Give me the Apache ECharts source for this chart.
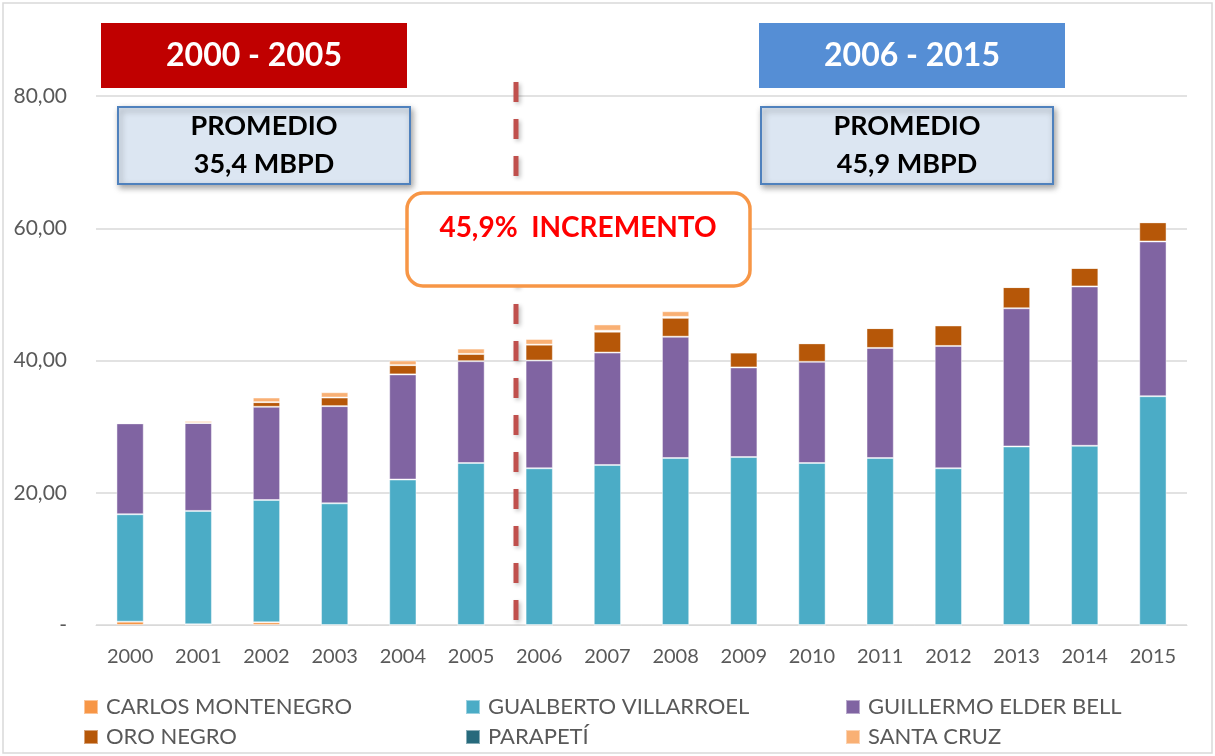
<!DOCTYPE html>
<html>
<head>
<meta charset="utf-8">
<title>Producción por campo</title>
<script src="https://cdn.jsdelivr.net/npm/echarts@6/dist/echarts.min.js"></script>
<style>
    html, body { margin: 0; padding: 0; background: #fff; }
    #ech { width: 1215px; height: 756px; }
</style>
</head>
<body>
<div id="ech"></div>
<script>
// datos (MBPD)
const years = ["2000", "2001", "2002", "2003", "2004", "2005", "2006", "2007", "2008", "2009", "2010", "2011", "2012", "2013", "2014", "2015"];
const carlosMontenegro = [0.5, 0.1, 0.4, 0, 0, 0, 0, 0, 0, 0, 0, 0, 0, 0, 0, 0];
const gualbertoVillarroel = [16.25, 17.15, 18.5, 18.4, 22.0, 24.5, 23.7, 24.2, 25.25, 25.4, 24.5, 25.25, 23.7, 27.0, 27.1, 34.6];
const guillermoElderBell = [13.75, 13.3, 14.1, 14.7, 15.9, 15.4, 16.3, 17.0, 18.35, 13.55, 15.3, 16.65, 18.5, 20.9, 24.1, 23.4];
const oroNegro = [0, 0, 0.7, 1.3, 1.4, 1.1, 2.4, 3.15, 2.85, 2.25, 2.8, 3.0, 3.1, 3.2, 2.8, 2.9];
const parapeti = [0, 0, 0, 0, 0, 0, 0, 0.15, 0.15, 0, 0, 0, 0, 0, 0, 0];
const santaCruz = [0, 0.3, 0.7, 0.8, 0.7, 0.8, 0.85, 0.95, 0.85, 0, 0, 0, 0, 0, 0, 0];
const yTicks = [0, 20, 40, 60, 80];

const font = "Lato, 'Open Sans', sans-serif";
const gray = "#595959";

const seriesDefs = [
    {name: "CARLOS MONTENEGRO", data: carlosMontenegro, color: "#F79646"},
    {name: "GUALBERTO VILLARROEL", data: gualbertoVillarroel, color: "#4BACC6"},
    {name: "GUILLERMO ELDER BELL", data: guillermoElderBell, color: "#8064A2"},
    {name: "ORO NEGRO", data: oroNegro, color: "#B65708"},
    {name: "PARAPETÍ", data: parapeti, color: "#276A7C"},
    {name: "SANTA CRUZ", data: santaCruz, color: "#F9B074"}
];

const legendCol = (names, left) => ({
    data: names,
    orient: "vertical",
    left: left,
    top: 691,
    itemWidth: 14,
    itemHeight: 14,
    itemGap: 8,
    icon: "rect",
    textStyle: {color: gray, fontSize: 22, fontFamily: font, padding: [0, 0, 0, 3]}
});

// caja de texto con sombra
const box = (x, y, w, h, fill, stroke, lines, textStyle, shadow) => ({
    type: "group",
    left: x,
    top: y,
    children: [
        {
            type: "rect",
            shape: {x: 0, y: 0, width: w, height: h},
            style: Object.assign({fill: fill, stroke: stroke, lineWidth: stroke ? 2 : 0},
                shadow ? {shadowBlur: 6, shadowOffsetX: 2, shadowOffsetY: 3, shadowColor: "rgba(0,0,0,0.35)"} : {})
        },
        {
            type: "text",
            x: w / 2,
            y: h / 2,
            style: Object.assign({text: lines, align: "center", verticalAlign: "middle", fontFamily: font, fontWeight: "bold"}, textStyle)
        }
    ]
});

const option = {
    backgroundColor: "#fff",
    animation: false,
    grid: {left: 96, right: 28, top: 96, bottom: 131},
    legend: [
        legendCol(["CARLOS MONTENEGRO", "ORO NEGRO"], 78),
        legendCol(["GUALBERTO VILLARROEL", "PARAPETÍ"], 460),
        legendCol(["GUILLERMO ELDER BELL", "SANTA CRUZ"], 840)
    ],
    xAxis: {
        type: "category",
        data: years,
        axisLine: {lineStyle: {color: "#D9D9D9", width: 1}},
        axisTick: {show: false},
        axisLabel: {color: gray, fontSize: 20, fontFamily: font, margin: 22}
    },
    yAxis: {
        type: "value",
        min: yTicks[0],
        max: yTicks[yTicks.length - 1],
        interval: 20,
        axisLine: {show: false},
        axisTick: {show: false},
        axisLabel: {
            color: gray,
            fontSize: 21,
            fontFamily: font,
            margin: 29,
            formatter: v => (v === 0 ? "-" : v.toFixed(2).replace(".", ","))
        },
        splitLine: {lineStyle: {color: "#D9D9D9", width: 1.5}}
    },
    series: seriesDefs.map(s => ({
        name: s.name,
        type: "bar",
        stack: "total",
        data: s.data,
        barWidth: "40%",
        color: s.color,
        itemStyle: {borderColor: "rgba(255,255,255,0.45)", borderWidth: 1}
    })),
    graphic: [
        {
            type: "rect",
            shape: {x: 3, y: 3, width: 1209, height: 750},
            style: {fill: "none", stroke: "#D9D9D9", lineWidth: 1.5},
            silent: true
        },
        {
            type: "line",
            shape: {x1: 516, y1: 82, x2: 516, y2: 632},
            style: {stroke: "#C0504D", lineWidth: 5, lineDash: [20, 17], shadowBlur: 4, shadowOffsetX: 2, shadowOffsetY: 2, shadowColor: "rgba(0,0,0,0.25)"},
            z: 10
        },
        box(101, 23, 306, 65, "#C00000", null, "2000 - 2005", {fill: "#fff", fontSize: 32}, false),
        box(759, 23, 306, 65, "#558ED5", null, "2006 - 2015", {fill: "#fff", fontSize: 32}, false),
        box(117, 106, 292, 77, "#DCE6F2", "#4F81BD", "PROMEDIO\n35,4 MBPD", {fill: "#000", fontSize: 27, lineHeight: 38}, true),
        box(760, 106, 292, 77, "#DCE6F2", "#4F81BD", "PROMEDIO\n45,9 MBPD", {fill: "#000", fontSize: 27, lineHeight: 38}, true),
        {
            type: "rect",
            shape: {x: 407, y: 193, width: 343, height: 93, r: 16},
            style: {fill: "#fff", stroke: "#F79646", lineWidth: 3.5},
            z: 20
        },
        {
            type: "text",
            x: 578,
            y: 228,
            z: 21,
            style: {text: "45,9%  INCREMENTO", align: "center", verticalAlign: "middle", fill: "#FF0000", fontSize: 28, fontWeight: "bold", fontFamily: font}
        }
    ]
};

const ecIns = echarts.init(document.getElementById("ech"));
ecIns.setOption(option);
</script>
</body>
</html>
